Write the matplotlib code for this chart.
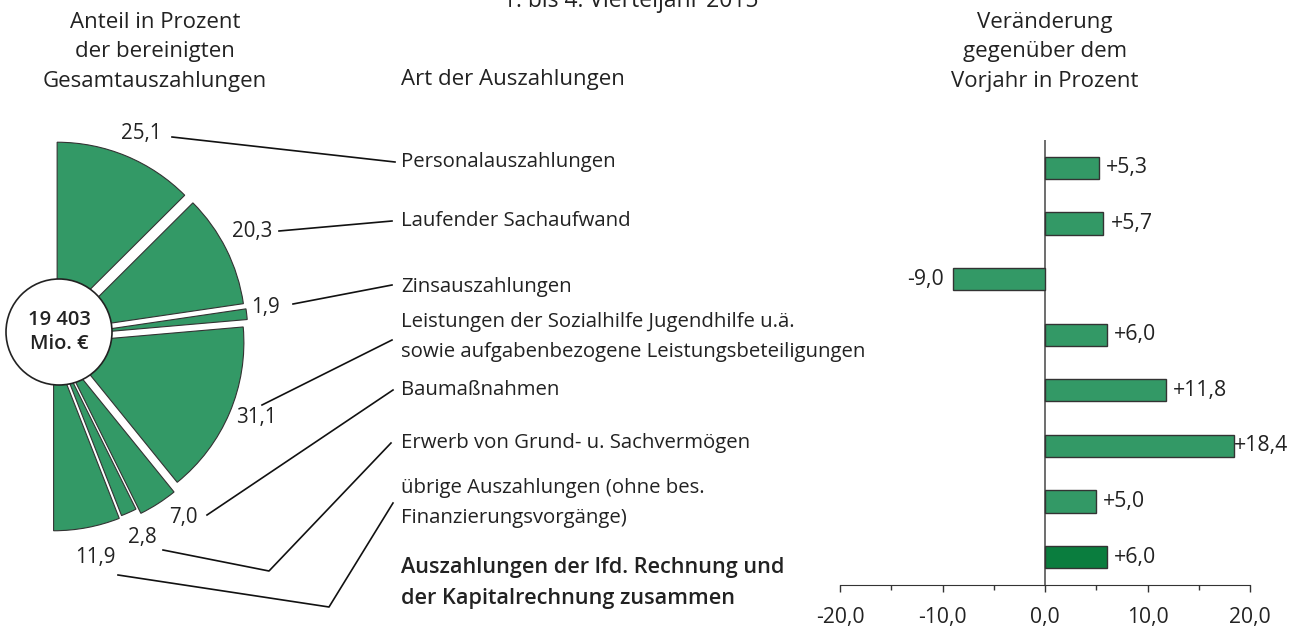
import matplotlib.pyplot as plt
import numpy as np

plt.rcParams['font.family'] = ['Open Sans', 'DejaVu Sans']

# Anteil in Prozent der bereinigten Gesamtauszahlungen
shares = [25.1, 20.3, 1.9, 31.1, 7.0, 2.8, 11.9]
share_labels = ['25,1', '20,3', '1,9', '31,1', '7,0', '2,8', '11,9']
total_text = '19 403\nMio. €'

# Art der Auszahlungen
categories = ['Personalauszahlungen',
              'Laufender Sachaufwand',
              'Zinsauszahlungen',
              'Leistungen der Sozialhilfe Jugendhilfe u.ä.\nsowie aufgabenbezogene Leistungsbeteiligungen',
              'Baumaßnahmen',
              'Erwerb von Grund- u. Sachvermögen',
              'übrige Auszahlungen (ohne bes.\nFinanzierungsvorgänge)',
              'Auszahlungen der lfd. Rechnung und\nder Kapitalrechnung zusammen']

# Veränderung gegenüber dem Vorjahr in Prozent
changes = [5.3, 5.7, -9.0, 6.0, 11.8, 18.4, 5.0, 6.0]
ticks = [-20, -10, 0, 10, 20]

green = '#339966'
dark_green = '#0a7d3e'
txt = '#222222'
H = 628


def Y(y):
    # pixel rows from the top -> axes units
    return H - y


fig = plt.figure(figsize=(13.08, 6.28), dpi=100)
ax = fig.add_axes([0, 0, 1, 1])

# half pie, the left half is an invisible dummy
explode = [16, 16, 17, 14, 18, 12, 14, 0]
wedges, _ = ax.pie(shares + [sum(shares)], explode=explode, startangle=90,
                   counterclock=False, radius=180, center=(51, Y(337)),
                   frame=True,
                   wedgeprops=dict(facecolor=green, edgecolor='#333333', linewidth=0.8))
wedges[-1].set_visible(False)
ax.add_patch(plt.Circle((59, Y(332)), 53, facecolor='white', edgecolor='#222222', lw=1.2, zorder=5))
ax.text(59, Y(332), total_text, ha='center', va='center', fontsize=14.5,
        fontweight='semibold', color=txt, zorder=6, linespacing=1.25)

ax.set_xlim(0, 1308)
ax.set_ylim(0, H)
ax.set_aspect('auto')
ax.axis('off')

# share values and leader lines
label_pos = [(162, 133), (272, 232), (280, 307), (277, 418), (198, 517), (157, 537), (116, 557)]
leaders = [[(172, 137), (395, 162)],
           [(279, 231), (392, 221)],
           [(293, 304), (392, 285)],
           [(262, 405), (392, 340)],
           [(207, 515), (393, 390)],
           [(163, 550), (269, 571), (391, 443)],
           [(118, 575), (329, 607), (393, 503)]]
for lab, (x, y), pts in zip(share_labels, label_pos, leaders):
    ax.text(x, Y(y), lab, ha='right', va='center', fontsize=14.8, color=txt)
    xs = [p[0] for p in pts]
    ys = [Y(p[1]) for p in pts]
    ax.plot(xs, ys, color='#111111', lw=1.2)

cat_y = [162, 221, 287, 337, 390, 443, 503, 583]
for i, (c, y) in enumerate(zip(categories, cat_y)):
    last = i == len(categories) - 1
    ax.text(401, Y(y), c, ha='left', va='center', fontsize=15.6 if last else 14.7, color=txt,
            linespacing=1.6 if last else 1.68, fontweight='semibold' if last else 'normal')

# headers
ax.text(155, Y(52), 'Anteil in Prozent\nder bereinigten\nGesamtauszahlungen', ha='center',
        va='center', fontsize=16, color=txt, linespacing=1.53)
ax.text(401, Y(80), 'Art der Auszahlungen', ha='left', va='center', fontsize=16, color=txt)
ax.text(1045, Y(52), 'Veränderung\ngegenüber dem\nVorjahr in Prozent', ha='center',
        va='center', fontsize=16, color=txt, linespacing=1.53)
ax.text(503, Y(7), '1. bis 4. Vierteljahr 2015', ha='left', va='baseline', fontsize=16.5, color=txt)

# bar chart
bx = fig.add_axes([840 / 1308, (H - 585) / H, 410 / 1308, 445 / H])
colors = [green] * (len(changes) - 1) + [dark_green]
ypos = np.arange(len(changes))
bx.barh(ypos, changes, height=0.4, color=colors, edgecolor='#333333', linewidth=1)
bx.axvline(0, color='#555555', lw=1.2, zorder=0)
for yp, v in zip(ypos, changes):
    s = ('+' if v > 0 else '') + f'{v:.1f}'.replace('.', ',')
    pad = 0 if v == max(changes) else 7
    if v >= 0:
        bx.annotate(s, (v, yp), xytext=(pad, 0), textcoords='offset pixels',
                    ha='left', va='center', fontsize=15.3, color=txt)
    else:
        bx.annotate(s, (v, yp), xytext=(-9, 0), textcoords='offset pixels',
                    ha='right', va='center', fontsize=15.3, color=txt)

bx.set_xlim(-20, 20)
bx.set_ylim(len(changes) - 0.5, -0.5)
bx.set_xticks(ticks)
bx.set_xticklabels([f'{t:.1f}'.replace('.', ',') for t in ticks], fontsize=15.2, color=txt)
bx.set_xticks([-15, -5, 5, 15], minor=True)
bx.set_yticks([])
bx.tick_params(axis='x', which='major', direction='out', length=5, width=1, pad=10.5, color='#333333')
bx.tick_params(axis='x', which='minor', direction='out', length=3.5, width=1, color='#333333')
for sp in ['top', 'right', 'left']:
    bx.spines[sp].set_visible(False)
bx.spines['bottom'].set_color('#333333')
bx.patch.set_alpha(0)

fig.savefig('out.png', dpi=100)
